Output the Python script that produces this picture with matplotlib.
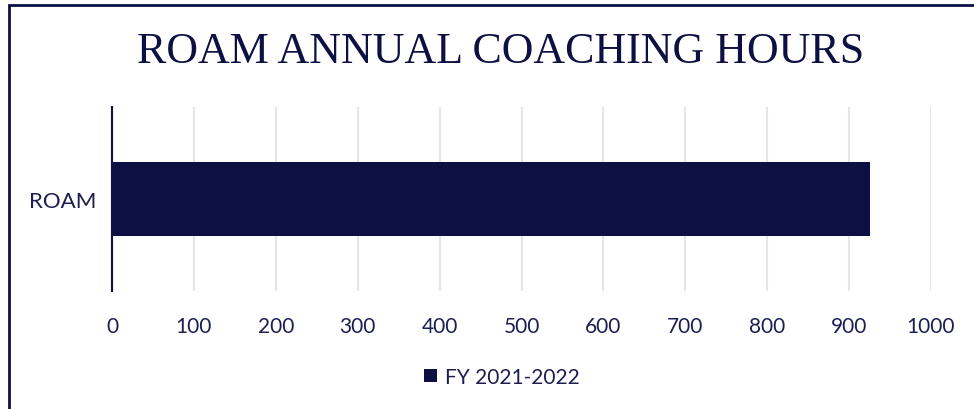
import matplotlib
matplotlib.use("Agg")
import matplotlib.pyplot as plt
from matplotlib.patches import Rectangle

categories = ["ROAM"]
values = [925]
series_name = "FY 2021-2022"
title = "ROAM ANNUAL COACHING HOURS"
xticks = [0, 100, 200, 300, 400, 500, 600, 700, 800, 900, 1000]

navy = "#0D1042"
text_c = "#1C1F50"

fig = plt.figure(figsize=(9.74, 4.10), dpi=100)
ax = fig.add_axes([112/974, 1-292/410, (931-112)/974, (292-108)/410])

ax.barh(categories, values, height=0.4, color=navy, label=series_name, zorder=3)
ax.set_xlim(0, 1000)
ax.set_ylim(-0.5, 0.5)
ax.set_xticks(xticks)
ax.set_xticklabels([str(t) for t in xticks], fontsize=15, color=text_c, family="Lato")
ax.tick_params(axis="x", length=0, pad=18)
ax.tick_params(axis="y", length=0, pad=11)
for lab in ax.get_yticklabels():
    lab.set_fontsize(16); lab.set_color(text_c); lab.set_family("Lato")
ax.grid(axis="x", color="#E6E6E6", linewidth=1.5, zorder=0)
for s in ["top", "right", "bottom"]:
    ax.spines[s].set_visible(False)
ax.spines["left"].set_color(navy)
ax.spines["left"].set_linewidth(1.5)
ax.spines["left"].set_zorder(4)

fig.text(501/974, 1-52/410, title, ha="center", va="center", fontsize=31.7,
         family="Liberation Serif", color=navy)

leg = fig.legend(loc="center", bbox_to_anchor=(502/974, 1-378/410), frameon=False,
                 prop={"family": "Lato", "size": 15}, handlelength=0.6, handleheight=0.6,
                 handletextpad=0.4)
for t in leg.get_texts():
    t.set_color(text_c)

fig.patches.append(Rectangle((9/974, -0.1), 1.2, 1 - 6/410 + 0.1, transform=fig.transFigure,
                             fill=False, edgecolor=navy, linewidth=2))

fig.savefig("out.png", dpi=100)
